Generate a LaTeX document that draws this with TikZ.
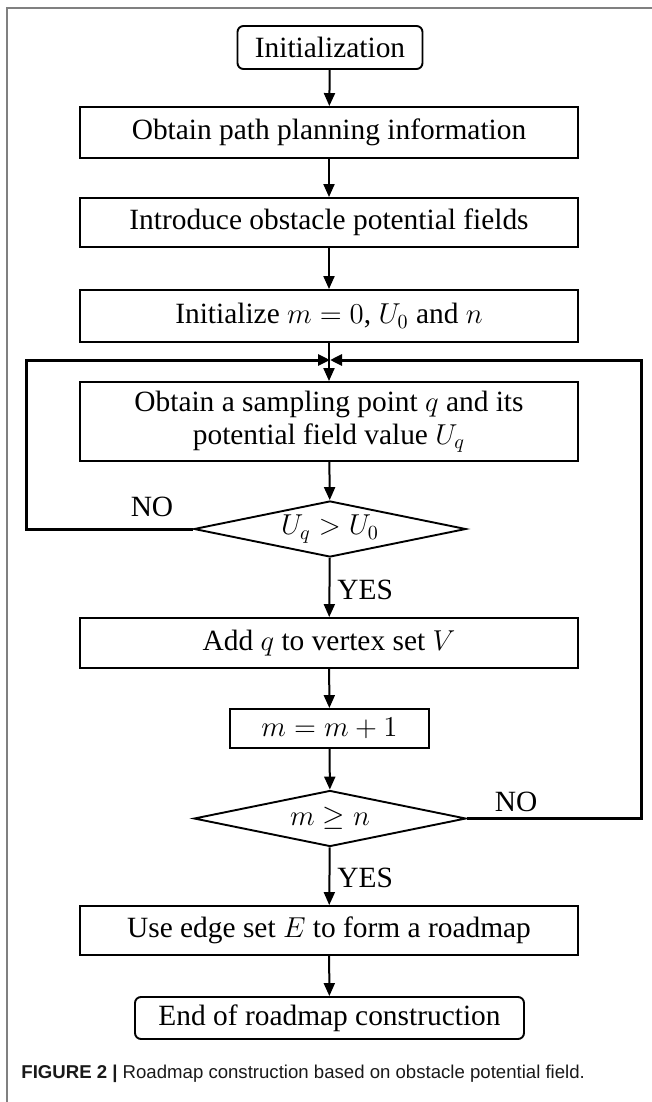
\documentclass[tikz,border=0pt]{standalone}
\usepackage{fontspec}
\usepackage{amsmath,amssymb}
\setmainfont{Liberation Serif}
\setsansfont{Liberation Sans}
\usetikzlibrary{shapes.geometric,arrows.meta}

\tikzset{
  step box/.style={draw, line width=0.95pt, minimum width=249pt, minimum height=25pt, inner sep=0pt,
    font=\fontsize{14.7}{16.5}\selectfont, align=center},
  term box/.style={step box, rounded corners=3pt},
  test/.style={draw, diamond, line width=0.95pt, aspect=4.8, inner sep=0pt,
    minimum width=136pt, minimum height=28pt, font=\fontsize{14.7}{16.5}\selectfont},
  arr/.style={line width=1pt, -{Triangle[length=6.5pt,width=5.5pt]}},
  back/.style={line width=1.5pt, -{Triangle[length=6pt,width=5.5pt]}},
  tag/.style={inner sep=0pt, font=\fontsize{14.7}{16.5}\selectfont}
}

\begin{document}
\begin{tikzpicture}[x=0.5pt, y=-0.5pt]
    \useasboundingbox (0,0) rectangle (652,1102);
    % frame
    \draw[gray, line width=1pt] (7,1102) -- (7,8) -- (652,8);

    \node[term box, minimum width=92.5pt, minimum height=21.5pt] (init) at (330,47.5) {Initialization};
    \node[step box, minimum height=25.5pt] (info) at (329,132.5) {Obtain path planning information};
    \node[step box, minimum height=24.5pt] (field) at (329,222.5) {Introduce obstacle potential fields};
    \node[step box, minimum height=26pt] (setup) at (329,316) {Initialize $m=0$, $U_0$ and $n$};
    \node[step box, minimum height=39.5pt] (sample) at (329,421.5) {Obtain a sampling point $q$ and its\\potential field value $U_q$};
    \node[test] (cmpU) at (330,529) {$U_q > U_0$};
    \node[step box] (addq) at (329,643) {Add $q$ to vertex set $V$};
    \node[step box, minimum width=99.5pt, minimum height=19.5pt] (count) at (329.5,728.5) {$m=m+1$};
    \node[test] (cmpm) at (330,818.5) {$m \geq n$};
    \node[step box, minimum height=24.5pt] (edges) at (329,930.5) {Use edge set $E$ to form a roadmap};
    \node[term box, minimum width=194.5pt, minimum height=21pt] (finish) at (329.5,1018) {End of roadmap construction};

    \coordinate (merge) at (330,360);
    \coordinate (left) at (26,360);
    \coordinate (right) at (641,360);

    \draw[arr] (init) -- (info);
    \draw[arr] (info) -- (field);
    \draw[arr] (field) -- (setup);
    \draw[arr] (setup) -- (sample);
    \draw[arr] (sample) -- (cmpU);
    \draw[arr] (cmpU) -- (addq);
    \draw[arr] (addq) -- (count);
    \draw[arr] (count) -- (cmpm);
    \draw[arr] (cmpm) -- (edges);
    \draw[arr] (edges) -- (finish);
    \draw[back] (cmpU.west) -| (left) -- (merge);
    \draw[back] (cmpm.east) -| (right) -- (merge);

    \node[tag] (no1) at (152,507) {NO};
    \node[tag, anchor=west] (yes1) at (337,590) {YES};
    \node[tag] (no2) at (516,802) {NO};
    \node[tag, anchor=west] (yes2) at (337,878) {YES};

    \node[anchor=west, inner sep=0pt, text=black!90, font=\sffamily\fontsize{9.3}{11}\selectfont] (caption) at (21,1074)
      {\textbf{FIGURE 2 |} Roadmap construction based on obstacle potential field.};
\end{tikzpicture}
\end{document}
